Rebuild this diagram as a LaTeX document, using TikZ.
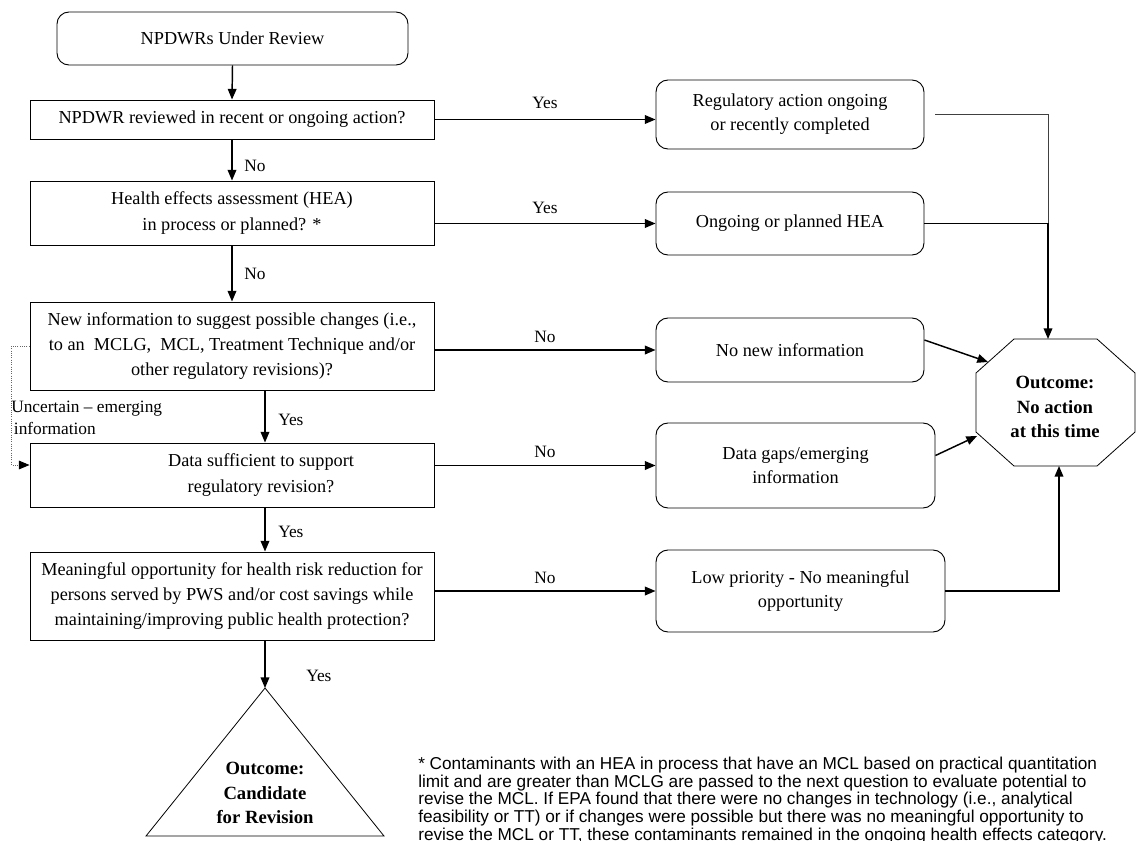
\documentclass[tikz,border=0pt]{standalone}
\usepackage{fontspec}
\setmainfont{Liberation Serif}
\newfontfamily\fnfont{Liberation Sans}
\usetikzlibrary{arrows.meta,calc}
\begin{document}
\begin{tikzpicture}[x=0.75pt,y=-0.75pt,
  txt/.style={font=\fontsize{13.7}{19}\selectfont},
  qbox/.style={draw,line width=0.7pt,minimum width=404*0.75pt,align=center,inner sep=0pt,txt},
  rbox/.style={draw,line width=0.7pt,rounded corners=9pt,align=center,inner sep=0pt,font=\fontsize{13.7}{18}\selectfont},
  arr/.style={line width=1.1pt,-{Triangle[length=8pt,width=6.5pt]}},
  lbl/.style={font=\fontsize{13}{16}\selectfont,inner sep=0pt},
  outc/.style={font=\bfseries\fontsize{14}{18.5}\selectfont,align=center,inner sep=0pt},
  shapeline/.style={line width=0.6pt}
  ]
\fill[white] (0,0) rectangle (1137,840);
\useasboundingbox (0,0) rectangle (1137,840);

% left column
\node[rbox, minimum width=351*0.75pt, minimum height=53*0.75pt] (start) at (232.5,38.5) {NPDWRs Under Review};
\node[qbox, minimum height=39*0.75pt] (q1) at (232,119.5) {NPDWR reviewed in recent or ongoing action?};
\node[qbox, minimum height=64*0.75pt] (q2) at (232,213) {Health effects assessment (HEA)\\ in process or planned? *};
\node[qbox, minimum height=88*0.75pt] (q3) at (232,346) {New information to suggest possible changes (i.e.,\\to an\ \ MCLG,\ \ MCL, Treatment Technique and/or\\other regulatory revisions)?};
\node[qbox, minimum height=64*0.75pt] (q4) at (232,475) {};
\node[txt, align=center, inner sep=0pt] (q4t) at (261,475) {Data sufficient to support\\regulatory revision?};
\node[qbox, minimum height=88*0.75pt] (q5) at (232,596) {Meaningful opportunity for health risk reduction for\\persons served by PWS and/or cost savings while\\maintaining/improving public health protection?};

% right column
\node[rbox, minimum width=268*0.75pt, minimum height=69*0.75pt] (r1) at (790,114.5) {Regulatory action ongoing\\or recently completed};
\node[rbox, minimum width=268*0.75pt, minimum height=63*0.75pt] (r2) at (790,223.5) {Ongoing or planned HEA};
\node[rbox, minimum width=268*0.75pt, minimum height=64*0.75pt] (r3) at (790,350) {No new information};
\node[rbox, minimum width=279*0.75pt, minimum height=85*0.75pt] (r4) at (795.5,465.5) {Data gaps/emerging\\information};
\node[rbox, minimum width=289*0.75pt, minimum height=82*0.75pt] (r5) at (800.5,591) {Low priority - No meaningful\\opportunity};

% octagon outcome
\draw[shapeline] (1014,339) -- (1097,339) -- (1135,373) -- (1135,432) -- (1097,466) -- (1014,466) -- (976,432) -- (976,373) -- cycle;
\node[outc] (oct) at (1055,407) {Outcome:\\No action\\at this time};
\coordinate (octTop) at (1048,339);
\coordinate (octBot) at (1059,466);
\coordinate (octUL) at (988,362);
\coordinate (octLL) at (977,436);

% triangle outcome
\coordinate (apex) at (265,688);
\draw[shapeline] (apex) -- (384,836) -- (146,836) -- cycle;
\node[outc] (tri) at (265,793) {Outcome:\\Candidate\\for Revision};

% vertical connectors
\coordinate (cx) at (265,0);
\draw[arr] (start.south) -- (q1.north);
\draw[arr] (q1.south) -- (q2.north);
\draw[arr] (q2.south) -- (q3.north);
\draw[arr] (q3.south -| cx) -- (q4.north -| cx);
\draw[arr] (q4.south -| cx) -- (q5.north -| cx);
\draw[arr] (q5.south -| cx) -- (apex);
\node[lbl, anchor=west] (n1) at (244,166) {No};
\node[lbl, anchor=west] (n2) at (244,274) {No};
\node[lbl, anchor=west] (y3) at (278,420) {Yes};
\node[lbl, anchor=west] (y4) at (278,532) {Yes};
\node[lbl, anchor=west] (y5) at (306,676) {Yes};

% horizontal connectors
\draw[arr] (q1.east) -- (q1.east -| r1.west);
\node[lbl] (y1) at (545,103) {Yes};
\draw[arr] (q2.east |- r2.west) -- (r2.west);
\node[lbl] (y2) at (545,208) {Yes};
\draw[arr] (q3.east |- r3.west) -- (r3.west);
\node[lbl] (nn3) at (545,337) {No};
\draw[arr] (q4.east |- r4.west) -- (r4.west);
\node[lbl] (nn4) at (545,452) {No};
\draw[arr] (q5.east |- r5.west) -- (r5.west);
\node[lbl] (nn5) at (545,578) {No};

% to octagon
\draw[line width=0.7pt, black!75] ([xshift=11*0.75pt]r1.east) -| (octTop |- r2.east);
\draw[arr] (r2.east) -| (octTop);
\draw[arr] ($(r3.east)+(0,-10)$) -- (octUL);
\draw[arr] ($(r4.east)+(0,-10)$) -- (octLL);
\draw[arr] (r5.east) -| (octBot);

% uncertain dotted
\draw[densely dotted, line width=0.7pt, black!60, -{Triangle[length=8pt,width=6.5pt,color=black]}] (q3.west) -- ++(-18,0) |- ($(q4.west)+(0,-10)$);
\node[lbl, anchor=west, align=left] (unc) at (11,418) {Uncertain – emerging\\\hspace{2pt}information};

% footnote
\node[anchor=north west, align=left, inner sep=0pt, font=\fnfont\fontsize{12.9}{13.2}\selectfont] (fn) at (418,757) {* Contaminants with an HEA in process that have an MCL based on practical quantitation\\limit and are greater than MCLG are passed to the next question to evaluate potential to\\revise the MCL. If EPA found that there were no changes in technology (i.e., analytical\\feasibility or TT) or if changes were possible but there was no meaningful opportunity to\\revise the MCL or TT, these contaminants remained in the ongoing health effects category.};
\end{tikzpicture}
\end{document}
